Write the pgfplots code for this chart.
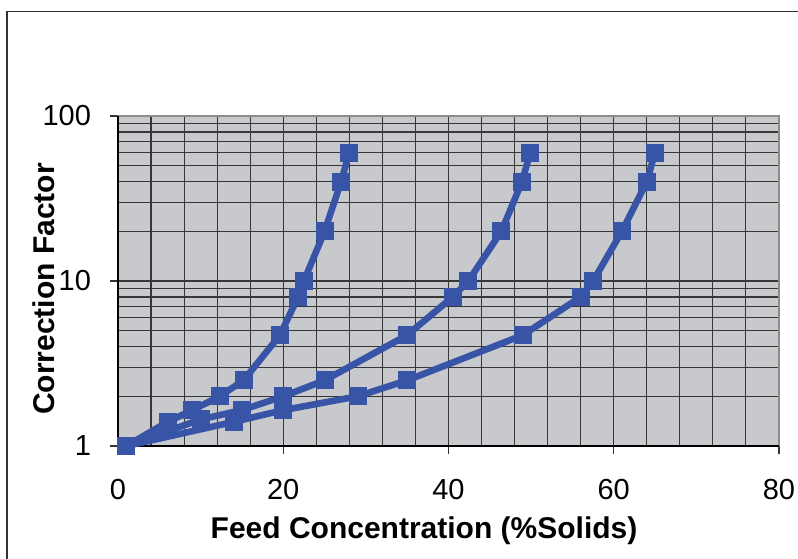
\documentclass[border=0pt]{standalone}
\usepackage{pgfplots}
\pgfplotsset{compat=1.18}
\usepackage{fontspec}
\setmainfont{Liberation Sans}
\definecolor{bgc}{RGB}{200,201,205}
\definecolor{serc}{RGB}{56,84,166}
\definecolor{gridc}{RGB}{55,55,55}
\begin{document}
\begin{tikzpicture}
\useasboundingbox (-59pt,-56pt) rectangle (340pt,223pt);
\draw[line width=0.6pt, black!80] (-55.5pt,-80pt) -- (-55.5pt,217.25pt) -- (360pt,217.25pt);
\begin{axis}[
  at={(0pt,0pt)}, anchor=south west,
  scale only axis, width=330.5pt, height=165pt,
  ymode=log, xmin=0, xmax=80, ymin=1, ymax=100,
  xtick={0,20,40,60,80},
  minor xtick={4,8,12,16,24,28,32,36,44,48,52,56,64,68,72,76},
  ytick={1,10,100}, yticklabels={1,10,100},
  minor ytick={2,3,4,5,6,7,8,9,20,30,40,50,60,70,80,90},
  grid=both,
  major grid style={gridc, line width=0.55pt},
  minor grid style={gridc, line width=0.55pt},
  axis background/.style={fill=bgc},
  axis line style={draw=black!45, line width=1pt},
  tick align=outside,
  major tick length=4pt, minor tick length=0pt,
  tick style={black!80, line width=0.6pt},
  xtick pos=bottom, ytick pos=left,
  font=\fontsize{14.5pt}{17pt}\selectfont,
  /pgf/number format/assume math mode=true,
  xticklabel style={anchor=base, yshift=-23pt},
  yticklabel style={anchor=east, xshift=-6pt},
  xlabel={\bfseries Feed Concentration (\%Solids)},
  ylabel={\bfseries Correction Factor},
  every axis x label/.style={at={(axis description cs:0.463,0)}, anchor=base, yshift=-46pt, font=\fontsize{15pt}{18pt}\selectfont},
  every axis y label/.style={at={(axis description cs:0,0.476)}, anchor=base, rotate=90, yshift=31.5pt, font=\fontsize{15pt}{18pt}\selectfont},
  clip=false,
]
\draw[black, line width=0.7pt] (axis cs:0,100) -- (axis cs:0,1) -- (axis cs:80,1);
\addplot[serc, line width=3.3pt, mark=square*, mark size=4.25pt, mark options={solid, line width=0pt}] coordinates {
(1,1) (14,1.4) (20,1.65) (29,2) (35,2.5) (49,4.7) (56,8) (57.5,10) (61,20) (64,40) (65,60)};
\addplot[serc, line width=3.3pt, mark=square*, mark size=4.25pt, mark options={solid, line width=0pt}] coordinates {
(1,1) (10,1.45) (15,1.65) (20,2) (25,2.5) (35,4.7) (40.5,8) (42.4,10) (46.4,20) (48.9,40) (49.9,60)};
\addplot[serc, line width=3.3pt, mark=square*, mark size=4.25pt, mark options={solid, line width=0pt}] coordinates {
(1,1) (6,1.4) (9,1.65) (12.3,2) (15.2,2.5) (19.6,4.7) (21.8,8) (22.5,10) (25,20) (27,40) (28,60)};
\end{axis}
\end{tikzpicture}
\end{document}
